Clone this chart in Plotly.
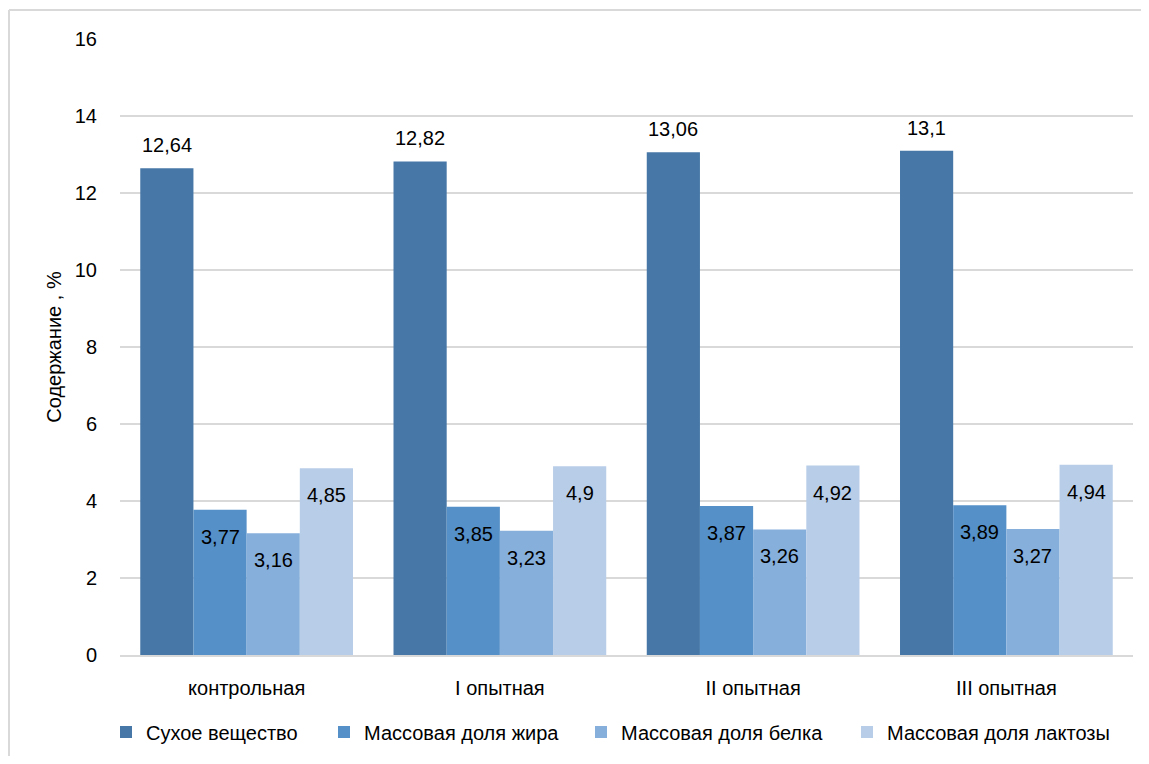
import plotly.graph_objects as go

categories = ["контрольная", "I опытная", "II опытная", "III опытная"]
series_names = ["Сухое вещество", "Массовая доля жира", "Массовая доля белка", "Массовая доля лактозы"]
dry_matter = [12.64, 12.82, 13.06, 13.1]
fat = [3.77, 3.85, 3.87, 3.89]
protein = [3.16, 3.23, 3.26, 3.27]
lactose = [4.85, 4.9, 4.92, 4.94]
y_ticks = [0, 2, 4, 6, 8, 10, 12, 14, 16]

colors = ["#4677A7", "#5590C8", "#86AFDC", "#B8CDE8"]
FONT = "Liberation Sans, Arial, sans-serif"

def fmt(v):
    s = ("%.2f" % v).rstrip("0").rstrip(".")
    return s.replace(".", ",")

OFF = 8  # page body margin
W, H = 1149 - 2 * OFF, 764 - 2 * OFF
L, R, T, B = 120 - OFF, 16 - OFF, 39 - OFF, 109 - OFF
pw = W - L - R
ph = H - T - B
bargap = 0.16
group_px = pw / len(categories)
bar_px = group_px * (1 - bargap) / 4

legend_text_x = [147, 365, 622, 888]
legend_ids = ["legend", "legend2", "legend3", "legend4"]

all_series = [dry_matter, fat, protein, lactose]
fig = go.Figure()
annotations = []
for i, (name, vals) in enumerate(zip(series_names, all_series)):
    fig.add_trace(go.Bar(
        x=categories, y=vals, name=name,
        marker=dict(color=colors[i], line=dict(width=0)),
        legend=legend_ids[i],
    ))
    xshift = (i - 1.5) * bar_px
    for c, v in zip(categories, vals):
        annotations.append(dict(
            x=c, y=v, xref="x", yref="y", text=fmt(v), showarrow=False,
            xshift=xshift, yshift=23 if i == 0 else -27,
            xanchor="center", yanchor="middle",
            font=dict(family=FONT, size=20, color="#000000"),
        ))

layout_legends = {}
for i, lid in enumerate(legend_ids):
    layout_legends[lid] = dict(
        orientation="h", xref="container", yref="container",
        x=(legend_text_x[i] - OFF - 41) / W, xanchor="left",
        y=1 - (732 - OFF) / H, yanchor="middle",
        font=dict(family=FONT, size=20, color="#000000"),
        itemwidth=30, bgcolor="rgba(0,0,0,0)", borderwidth=0,
    )

fig.update_layout(
    width=W, height=H,
    margin=dict(l=L, r=R, t=T, b=B, autoexpand=False),
    paper_bgcolor="white", plot_bgcolor="white",
    barmode="group", bargap=bargap, bargroupgap=0,
    font=dict(family=FONT, size=20, color="#000000"),
    showlegend=True,
    xaxis=dict(showgrid=False, showline=True, linecolor="#D9D9D9", linewidth=2,
               ticks="", tickfont=dict(family=FONT, size=20), automargin=False,
               ticklabelstandoff=14),
    yaxis=dict(range=[0, 16], tickvals=y_ticks, showgrid=True, gridcolor="#D9D9D9", gridwidth=2,
               zeroline=False, showline=False, ticks="", ticklabelstandoff=22, automargin=False,
               tickfont=dict(family=FONT, size=20),
               title=dict(text="Содержание , %", font=dict(family=FONT, size=20), standoff=7)),
    annotations=annotations,
    shapes=[
        dict(type="line", xref="paper", yref="paper",
             x0=(9 - OFF - L) / pw, x1=(9 - OFF - L) / pw,
             y0=(H - B - (10 - OFF)) / ph, y1=(H - B - 800) / ph,
             line=dict(color="#D9D9D9", width=2)),
        dict(type="line", xref="paper", yref="paper",
             x0=(9 - OFF - L) / pw, x1=(1200 - L) / pw,
             y0=(H - B - (10 - OFF)) / ph, y1=(H - B - (10 - OFF)) / ph,
             line=dict(color="#D9D9D9", width=2)),
    ],
    **layout_legends,
)

fig.write_html("out.html", config={"displayModeBar": False})
